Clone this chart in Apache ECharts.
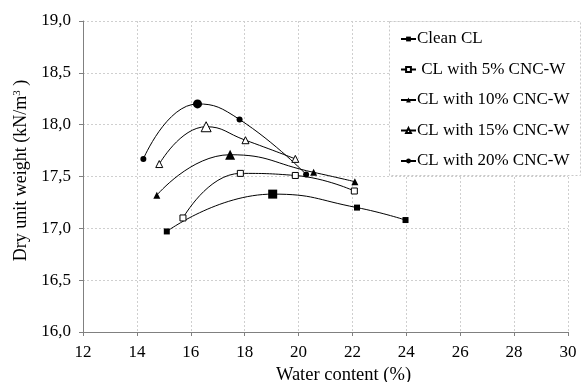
<!DOCTYPE html>
<html>
<head>
<meta charset="utf-8">
<script src="https://cdn.jsdelivr.net/npm/echarts@6/dist/echarts.min.js"></script>
<style>
  html, body { margin: 0; padding: 0; background: #fff; }
  #chart { width: 582px; height: 382px; }
</style>
</head>
<body>
<div id="chart"></div>
<script>
// water content (%) / dry unit weight (kN/m3)
var seriesNames = ['Clean CL', ' CL with 5% CNC-W', 'CL with 10% CNC-W', 'CL with 15% CNC-W', 'CL with 20% CNC-W']

var cleanX = [15.11, 19.04, 22.17, 23.97]
var cleanY = [16.97, 17.33, 17.20, 17.08]
var cnc5X = [15.71, 17.84, 19.88, 22.07]
var cnc5Y = [17.10, 17.53, 17.51, 17.36]
var cnc10X = [14.74, 17.46, 20.56, 22.09]
var cnc10Y = [17.32, 17.71, 17.54, 17.45]
var cnc15X = [14.83, 16.57, 18.03, 19.88]
var cnc15Y = [17.62, 17.98, 17.85, 17.67]
var cnc20X = [14.24, 16.25, 17.81, 20.28]
var cnc20Y = [17.67, 18.20, 18.05, 17.52]

// index of the optimum point (drawn bigger), -1 = none
var peakIndex = [1, -1, 1, 1, 1]

var font = "'Liberation Serif', 'Times New Roman', serif"

function pairs(xs, ys) {
  return xs.map(function (x, i) { return [x, ys[i]] })
}

function makeSeries(name, xs, ys, symbol, hollow, peak, small, big) {
  var data = pairs(xs, ys).map(function (p, i) {
    if (i === peak) {
      return { value: p, symbolSize: big }
    }
    return { value: p }
  })
  return {
    name: name,
    type: 'line',
    smooth: 0.5,
    symbol: symbol,
    symbolSize: small,
    data: data,
    lineStyle: { color: '#000', width: 1 },
    itemStyle: hollow
      ? { color: '#fff', borderColor: '#000', borderWidth: 1 }
      : { color: '#000', borderColor: '#000', borderWidth: 0 },
    z: 3
  }
}

var chart = echarts.init(document.getElementById('chart'))

var option = {
  backgroundColor: '#fff',
  animation: false,
  textStyle: { fontFamily: font, color: '#000' },
  grid: { left: 83, right: 14, top: 21, bottom: 50, containLabel: false, outerBoundsMode: 'none' },
  xAxis: {
    type: 'value',
    min: 12,
    max: 30,
    interval: 2,
    name: 'Water content (%)',
    nameLocation: 'middle',
    nameGap: 31,
    nameTextStyle: { fontFamily: font, fontSize: 18.5, color: '#000', padding: [0, 0, 0, 36] },
    axisLine: { onZero: false, lineStyle: { color: '#808080', width: 1 } },
    axisTick: { show: true, length: 4, lineStyle: { color: '#808080' } },
    axisLabel: { fontFamily: font, fontSize: 17, color: '#000', margin: 12 },
    splitLine: { show: true, lineStyle: { color: '#cfcfcf', type: [2, 2], width: 1 } }
  },
  yAxis: {
    type: 'value',
    min: 16,
    max: 19,
    interval: 0.5,
    name: '{a|Dry unit weight (kN/m}{s|3}{a| )}',
    nameLocation: 'middle',
    nameRotate: 90,
    nameGap: 38,
    nameTextStyle: {
      padding: [0, 0, 0, 12],
      rich: {
        a: { fontFamily: font, fontSize: 18, color: '#000' },
        s: { fontFamily: font, fontSize: 11, color: '#000', verticalAlign: 'top', padding: [0, 0, 8, 0] }
      }
    },
    axisLine: { show: true, onZero: false, lineStyle: { color: '#808080', width: 1 } },
    axisTick: { show: true, length: 4, lineStyle: { color: '#808080' } },
    axisLabel: {
      fontFamily: font,
      fontSize: 17,
      color: '#000',
      margin: 12,
      formatter: function (v) { return v.toFixed(1).replace('.', ',') }
    },
    splitLine: { show: true, lineStyle: { color: '#cfcfcf', type: [2, 2], width: 1 } }
  },
  graphic: [
    {
      type: 'rect',
      z: 5,
      shape: { x: 389.5, y: 21.5, width: 191, height: 154 },
      style: { fill: '#fff', stroke: '#c8c8c8', lineWidth: 1, lineDash: [2, 2] }
    }
  ],
  legend: {
    orient: 'vertical',
    left: 400,
    top: 29,
    padding: 0,
    z: 6,
    itemWidth: 15,
    itemHeight: 6,
    itemGap: 10.5,
    data: seriesNames,
    textStyle: { fontFamily: font, fontSize: 17, color: '#000', lineHeight: 20, padding: [0, 0, 0, -4] }
  },
  series: [
    makeSeries(seriesNames[0], cleanX, cleanY, 'rect', false, peakIndex[0], 6, 9),
    makeSeries(seriesNames[1], cnc5X, cnc5Y, 'rect', true, peakIndex[1], 6, 6),
    makeSeries(seriesNames[2], cnc10X, cnc10Y, 'triangle', false, peakIndex[2], 7, 10),
    makeSeries(seriesNames[3], cnc15X, cnc15Y, 'triangle', true, peakIndex[3], 7, 10),
    makeSeries(seriesNames[4], cnc20X, cnc20Y, 'circle', false, peakIndex[4], 6, 9)
  ]
}

chart.setOption(option)
</script>
</body>
</html>
